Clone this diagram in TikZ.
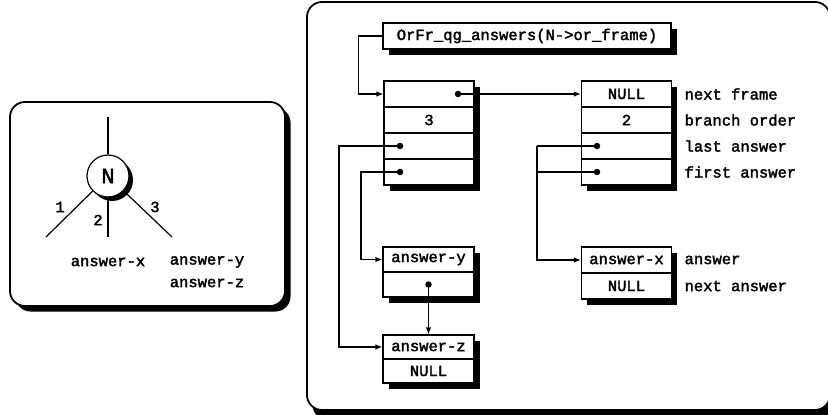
\documentclass[tikz,border=0pt]{standalone}
\usepackage{fontspec}
\newfontfamily\codefont[FakeBold=2.2]{Liberation Mono}
\usetikzlibrary{arrows.meta,shadows}
\tikzset{
  every picture/.style={line width=1.2pt},
  tt/.style={font=\fontsize{15.5}{18}\selectfont\codefont},
  boxshadow/.style={drop shadow={shadow xshift=5.5pt, shadow yshift=-5.5pt, fill=black, opacity=1}},
  cell/.style={tt, draw, fill=white, inner sep=0pt, minimum width=90pt, minimum height=26pt, boxshadow},
  arr/.style={-{Latex[length=7pt,width=5.5pt]}},
  dot/.style={fill=black, circle, inner sep=0pt, minimum size=6.5pt},
  lbl/.style={tt, anchor=west, inner sep=0pt},
  panel/.style={line width=1.8pt, rounded corners=15pt}
}
\begin{document}
\begin{tikzpicture}[x=1pt,y=-1pt]
\useasboundingbox (0,0) rectangle (828,415);

% ---- left panel: node N and its three branches ----
\fill[black, rounded corners=15pt] (15.5,107.5) rectangle (290.5,311.5);
\draw[panel, fill=white] (10,102) rectangle (285,306);

\fill[black] (112,180) circle (21pt);
\node[draw, fill=white, circle, minimum size=42pt, inner sep=0pt,
      font=\fontsize{22}{24}\selectfont\codefont] (N) at (108,176) {N};
\coordinate (top) at (108,117);
\coordinate (b1) at (46,237);
\coordinate (b2) at (108,237);
\coordinate (b3) at (172,237);
\draw (top) -- (N);
\draw (N) -- (b1);
\draw (N) -- (b2);
\draw (N) -- (b3);
\node[tt, inner sep=0pt] (l1) at (60,207) {1};
\node[tt, inner sep=0pt] (l2) at (98,220) {2};
\node[tt, inner sep=0pt] (l3) at (155,207) {3};
\node[tt, inner sep=0pt] (tx) at (108,262) {answer-x};
\node[tt, inner sep=0pt] (ty) at (207,262) {answer-y};
\node[tt, inner sep=0pt] (tz) at (207,283) {answer-z};

% ---- right panel: or-frame and answer lists ----
\fill[black, rounded corners=15pt] (312.5,7.5) rectangle (835,420);
\draw[panel, fill=white] (307,2) rectangle (830,410);

\node[cell, minimum width=288pt] (fn) at (527,36) {OrFr\_qg\_answers(N->or\_frame)};

% first or-frame
\node[cell] (f1a) at (429,94) {};
\node[cell] (f1b) at (429,120) {3};
\node[cell] (f1c) at (429,146) {};
\node[cell] (f1d) at (429,172) {};

% second or-frame
\node[cell] (f2a) at (626.5,94) {NULL};
\node[cell] (f2b) at (626.5,120) {2};
\node[cell] (f2c) at (626.5,146) {};
\node[cell] (f2d) at (626.5,172) {};
\node[lbl] (n1) at (684,94) {next frame};
\node[lbl] (n2) at (684,120) {branch order};
\node[lbl] (n3) at (684,146) {last answer};
\node[lbl] (n4) at (684,172) {first answer};

% answer list of the second frame
\node[cell] (axa) at (626.5,260) {answer-x};
\node[cell] (axb) at (626.5,286) {NULL};
\node[lbl] (m1) at (684,260) {answer};
\node[lbl] (m2) at (684,286) {next answer};

% answer list of the first frame
\node[cell, minimum width=91pt, minimum height=25pt] (aya) at (428.5,259.5) {answer-y};
\node[cell, minimum width=91pt, minimum height=25pt] (ayb) at (428.5,284.5) {};
\node[cell, minimum width=91pt, minimum height=24pt] (aza) at (428.5,347) {answer-z};
\node[cell, minimum width=91pt, minimum height=24pt] (azb) at (428.5,371) {NULL};

% pointers
\node[dot] (d1) at (458,94) {};
\node[dot] (d3) at (400,146) {};
\node[dot] (d4) at (400,172) {};
\node[dot] (e3) at (597,146) {};
\node[dot] (e4) at (597,172) {};
\node[dot] (yd) at (428.5,284.5) {};

\draw[arr] (fn.west) -- ++(-24,0) |- (f1a.west);
\draw[arr] (d1.center) -- (f2a.west);
\draw[arr] (d3.center) -- ++(-61,0) |- (aza.west);
\draw[arr] (d4.center) -- ++(-39,0) |- (aya.west);
\draw (e3.center) -- ++(-60,0) coordinate (c3);
\draw (e4.center) -- ++(-60,0);
\draw[arr] (c3) |- (axa.west);
\draw[arr] (yd.center) -- (aza.north);
\end{tikzpicture}
\end{document}
